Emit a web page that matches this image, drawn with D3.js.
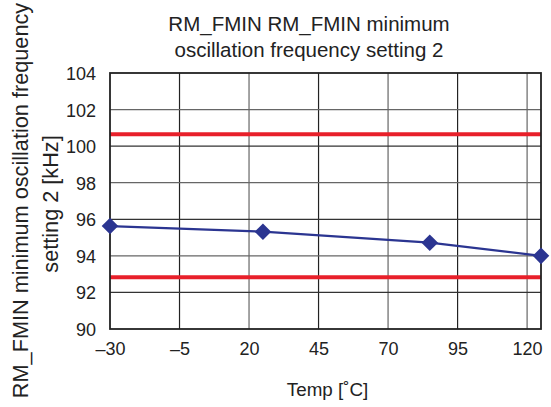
<!DOCTYPE html>
<html><head><meta charset="utf-8">
<script src="https://cdn.jsdelivr.net/npm/d3@7"></script>
<style>body{margin:0;background:#fff}svg{display:block}text{font-family:"Liberation Sans",Arial,sans-serif;fill:#222}</style>
</head><body><div id="c"></div>
<script>
const temps = [-30, 25, 85, 125];
const freq = [95.63, 95.32, 94.72, 94.0];
const upperLimit = 100.65;
const lowerLimit = 92.83;
const xTicks = [-30, -5, 20, 45, 70, 95, 120];
const yTicks = [90, 92, 94, 96, 98, 100, 102, 104];
const titleLines = ["RM_FMIN RM_FMIN minimum", "oscillation frequency setting 2"];
const yLabelLines = ["RM_FMIN minimum oscillation frequency", "setting 2 [kHz]"];
const xLabel = "Temp [˚C]";

const W = 551, H = 407;
const m = {l: 110, r: 10, t: 73, b: 78};
const svg = d3.select("#c").append("svg").attr("width", W).attr("height", H);
const x = d3.scaleLinear().domain([-30, 125]).range([m.l, W - m.r]);
const y = d3.scaleLinear().domain([90, 104]).range([H - m.b, m.t]);

const g = svg.append("g");
// grid
g.selectAll(".vg").data(xTicks.slice(1)).join("line")
  .attr("x1", d => x(d)).attr("x2", d => x(d)).attr("y1", y(90)).attr("y2", y(104))
  .attr("stroke", (d, i) => i % 2 === 0 ? "#222" : "#666").attr("stroke-width", 1.2);
g.selectAll(".hg").data(yTicks.slice(1, -1)).join("line")
  .attr("x1", x(-30)).attr("x2", x(125)).attr("y1", d => y(d)).attr("y2", d => y(d))
  .attr("stroke", (d, i) => i % 2 === 0 ? "#333" : "#666").attr("stroke-width", 1.2);

// limit lines
[upperLimit, lowerLimit].forEach(v => {
  g.append("line").attr("x1", x(-30)).attr("x2", x(125)).attr("y1", y(v)).attr("y2", y(v))
    .attr("stroke", "#e8202a").attr("stroke-width", 4);
});

// frame
g.append("rect").attr("x", x(-30)).attr("y", y(104)).attr("width", x(125) - x(-30)).attr("height", y(90) - y(104))
  .attr("fill", "none").attr("stroke", "#222").attr("stroke-width", 1.8);

// axes
const xAxis = svg.append("g").attr("transform", `translate(0,${y(90)})`)
  .call(d3.axisBottom(x).tickValues(xTicks).tickSize(0).tickPadding(13).tickFormat(d => d < 0 ? "\u2013" + Math.abs(d) : d));
const yAxis = svg.append("g").attr("transform", `translate(${x(-30)},0)`)
  .call(d3.axisLeft(y).tickValues(yTicks).tickSize(0).tickPadding(14));
[xAxis, yAxis].forEach(a => {
  a.select(".domain").remove();
  a.selectAll("text").style("font-size", "18px").attr("fill", "#222").style("font-family", '"Liberation Sans",Arial,sans-serif');
});
xAxis.selectAll("text").attr("dy", "0.71em");
yAxis.selectAll("text").attr("dy", "0.36em");

// data
const data = temps.map((t, i) => ({t, f: freq[i]}));
svg.append("path").datum(data)
  .attr("d", d3.line().x(d => x(d.t)).y(d => y(d.f)))
  .attr("fill", "none").attr("stroke", "#2b3591").attr("stroke-width", 2.2);
svg.selectAll(".pt").data(data).join("path")
  .attr("d", d3.symbol().type(d3.symbolDiamond2).size(175))
  .attr("transform", d => `translate(${x(d.t)},${y(d.f)})`)
  .attr("fill", "#2b3591");

// title
svg.append("text").attr("text-anchor", "middle").style("font-size", "20.5px")
  .selectAll("tspan").data(titleLines).join("tspan")
  .attr("x", 309).attr("y", (d, i) => 31 + i * 26).text(d => d);

// y label
svg.append("text").attr("transform", "translate(28,200.5) rotate(-90)").attr("text-anchor", "middle")
  .style("font-size", "21.7px").text(yLabelLines[0]);
svg.append("text").attr("transform", "translate(58,204) rotate(-90)").attr("text-anchor", "middle")
  .style("font-size", "21.7px").text(yLabelLines[1]);

// x label
svg.append("text").attr("x", 327.5).attr("y", 396).attr("text-anchor", "middle").style("font-size", "18.8px").text(xLabel);
</script></body></html>
